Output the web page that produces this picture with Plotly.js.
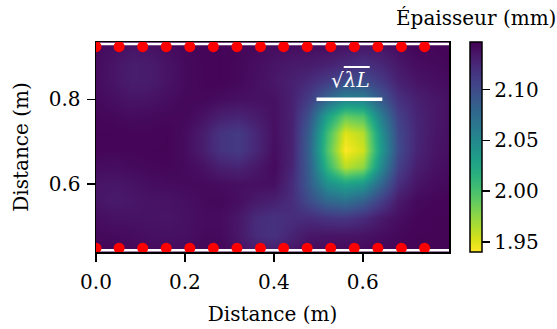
<!DOCTYPE html>
<html><head><meta charset="utf-8">
<script src="https://cdn.plot.ly/plotly-3.0.1.min.js"></script>
<style>html,body{margin:0;padding:0;background:#fff}</style>
</head><body><div id="chart" style="width:557px;height:329px"></div>
<script>
// Grid positions (m)
const gridX = [0.00,0.04,0.08,0.12,0.16,0.20,0.24,0.28,0.32,0.36,0.40,0.44,0.48,0.52,0.56,0.60,0.64,0.68,0.72,0.76,0.80];
const gridY = [0.44,0.48,0.52,0.56,0.60,0.64,0.68,0.72,0.76,0.80,0.84,0.88,0.92,0.96];
// Thickness (mm), one row per gridY value
const row044 = [2.145,2.145,2.143,2.142,2.141,2.142,2.143,2.144,2.139,2.133,2.131,2.136,2.142,2.143,2.142,2.143,2.144,2.145,2.145,2.145,2.145];
const row048 = [2.143,2.142,2.141,2.139,2.138,2.139,2.142,2.142,2.135,2.122,2.118,2.127,2.135,2.136,2.136,2.137,2.140,2.143,2.145,2.145,2.145];
const row052 = [2.140,2.138,2.137,2.137,2.136,2.138,2.141,2.141,2.135,2.122,2.118,2.121,2.122,2.117,2.115,2.122,2.133,2.140,2.144,2.145,2.145];
const row056 = [2.136,2.133,2.135,2.137,2.137,2.139,2.142,2.143,2.140,2.133,2.129,2.121,2.100,2.080,2.072,2.085,2.110,2.133,2.142,2.144,2.145];
const row060 = [2.136,2.135,2.137,2.140,2.141,2.142,2.142,2.141,2.139,2.139,2.139,2.122,2.088,2.045,2.030,2.038,2.080,2.120,2.136,2.141,2.143];
const row064 = [2.141,2.140,2.142,2.143,2.144,2.142,2.138,2.130,2.127,2.134,2.142,2.126,2.085,2.012,1.962,1.975,2.050,2.108,2.130,2.138,2.141];
const row068 = [2.144,2.144,2.144,2.145,2.145,2.141,2.131,2.117,2.112,2.125,2.140,2.128,2.082,1.998,1.940,1.955,2.035,2.100,2.126,2.136,2.140];
const row072 = [2.145,2.145,2.144,2.144,2.145,2.141,2.131,2.117,2.112,2.125,2.139,2.128,2.085,2.005,1.950,1.963,2.042,2.102,2.125,2.135,2.139];
const row076 = [2.144,2.143,2.141,2.142,2.143,2.143,2.138,2.130,2.127,2.132,2.139,2.128,2.095,2.030,1.990,1.998,2.060,2.108,2.126,2.134,2.139];
const row080 = [2.142,2.139,2.136,2.137,2.140,2.143,2.143,2.141,2.139,2.138,2.138,2.129,2.110,2.080,2.055,2.058,2.090,2.118,2.129,2.135,2.139];
const row084 = [2.141,2.136,2.131,2.132,2.137,2.142,2.144,2.145,2.143,2.139,2.135,2.129,2.122,2.110,2.098,2.098,2.112,2.128,2.136,2.139,2.141];
const row088 = [2.141,2.136,2.131,2.132,2.137,2.142,2.144,2.145,2.143,2.140,2.136,2.133,2.132,2.128,2.122,2.118,2.124,2.134,2.140,2.142,2.144];
const row092 = [2.142,2.139,2.136,2.137,2.140,2.143,2.145,2.145,2.144,2.142,2.140,2.139,2.139,2.139,2.136,2.133,2.135,2.140,2.144,2.144,2.145];
const row096 = [2.144,2.143,2.141,2.142,2.143,2.144,2.145,2.145,2.145,2.145,2.143,2.143,2.143,2.144,2.143,2.142,2.143,2.144,2.145,2.145,2.145];
const thickness = [row044,row048,row052,row056,row060,row064,row068,row072,row076,row080,row084,row088,row092,row096];

// Sensor (red dot) positions along both edges
const sensorX = [0.000,0.052,0.105,0.158,0.211,0.264,0.317,0.370,0.422,0.475,0.528,0.581,0.634,0.687,0.739];
const sensorYTop = 0.924;
const sensorYBottom = 0.449;
// White edge lines
const edgeX = [0.0, 0.80];
const edgeYTop = 0.930;
const edgeYBottom = 0.444;
// Scale bar sqrt(lambda L)
const scaleBarX = [0.496, 0.644];
const scaleBarY = 0.80;
const scaleLabelPos = [0.572, 0.846];
// Axis / colour bar ticks
const xTicks = [0.0, 0.2, 0.4, 0.6];
const yTicks = [0.6, 0.8];
const cbTicks = [1.95, 2.00, 2.05, 2.10];
const zMin = 1.940, zMax = 2.147;

const FONT = 'DejaVu Serif';
const FS = 20;

const traces = [
  {
    type: 'heatmap', x: gridX, y: gridY, z: thickness,
    zsmooth: 'best', colorscale: 'Viridis', reversescale: true,
    zmin: zMin, zmax: zMax, hoverinfo: 'skip',
    colorbar: {
      x: 1.0595, xanchor: 'left', xpad: 0, y: 0.5, yanchor: 'middle', ypad: 0,
      len: 1, lenmode: 'fraction', thickness: 12, thicknessmode: 'pixels',
      outlinewidth: 1.5, outlinecolor: '#000',
      tickmode: 'array', tickvals: cbTicks, tickformat: '.2f',
      ticks: 'outside', ticklen: 8, tickwidth: 1.5, tickcolor: '#000',
      ticklabelstandoff: 5,
      tickfont: {family: FONT, size: FS, color: '#000'}
    }
  },
  { type: 'scatter', mode: 'lines', x: edgeX, y: [edgeYTop, edgeYTop],
    line: {color: '#fff', width: 2.5}, hoverinfo: 'skip', showlegend: false },
  { type: 'scatter', mode: 'lines', x: edgeX, y: [edgeYBottom, edgeYBottom],
    line: {color: '#fff', width: 2.5}, hoverinfo: 'skip', showlegend: false },
  { type: 'scatter', mode: 'markers', x: sensorX, y: sensorX.map(() => sensorYTop),
    marker: {color: '#ff0000', size: 11}, hoverinfo: 'skip', showlegend: false },
  { type: 'scatter', mode: 'markers', x: sensorX, y: sensorX.map(() => sensorYBottom),
    marker: {color: '#ff0000', size: 11}, hoverinfo: 'skip', showlegend: false },
  { type: 'scatter', mode: 'lines', x: scaleBarX, y: [scaleBarY, scaleBarY],
    line: {color: '#fff', width: 3.5}, hoverinfo: 'skip', showlegend: false }
];

const layout = {
  width: 557, height: 329,
  margin: {l: 96, r: 108, t: 42, b: 77, pad: 0},
  paper_bgcolor: '#fff', plot_bgcolor: '#fff',
  showlegend: false,
  font: {family: FONT, size: FS, color: '#000'},
  xaxis: {
    range: [0, 0.794], tickmode: 'array', tickvals: xTicks, tickformat: '.1f',
    ticks: 'outside', ticklen: 8, tickwidth: 1.5, tickcolor: '#000',
    ticklabelstandoff: 3,
    showline: true, mirror: true, linecolor: '#000', linewidth: 1.5,
    showgrid: false, zeroline: false,
    tickfont: {family: FONT, size: FS},
    title: {text: 'Distance (m)', standoff: 14, font: {family: FONT, size: FS}}
  },
  yaxis: {
    range: [0.44, 0.935], tickmode: 'array', tickvals: yTicks, tickformat: '.1f',
    ticks: 'outside', ticklen: 8, tickwidth: 1.5, tickcolor: '#000',
    ticklabelstandoff: 2,
    showline: true, mirror: true, linecolor: '#000', linewidth: 1.5,
    showgrid: false, zeroline: false,
    tickfont: {family: FONT, size: FS},
    title: {text: 'Distance (m)', standoff: 14, font: {family: FONT, size: FS}}
  },
  annotations: [
    { xref: 'paper', yref: 'paper', x: 1.076, y: 1.114, xanchor: 'center', yanchor: 'middle',
      text: 'Épaisseur (mm)', showarrow: false, font: {family: FONT, size: FS, color: '#000'} },
    { xref: 'x', yref: 'y', x: scaleLabelPos[0], y: scaleLabelPos[1], xanchor: 'center', yanchor: 'middle',
      text: '√<span style="text-decoration:overline"><i>λL</i></span>', showarrow: false,
      font: {family: FONT, size: FS, color: '#fff'} }
  ]
};

Plotly.newPlot('chart', traces, layout, {staticPlot: true, displayModeBar: false});
</script>
</body></html>
